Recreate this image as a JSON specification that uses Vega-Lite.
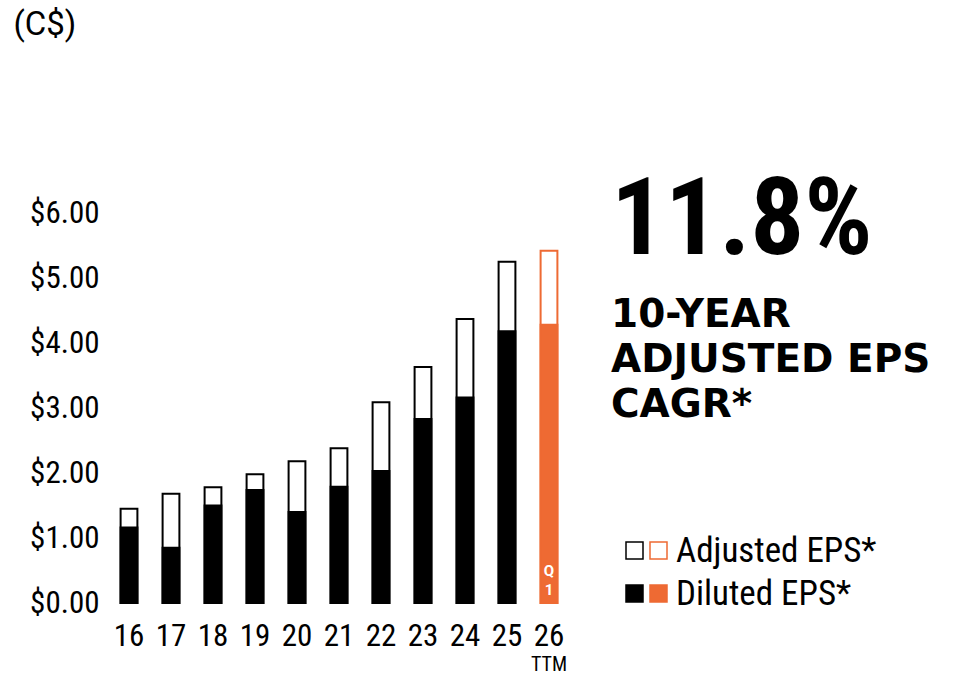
{
  "$schema": "https://vega.github.io/schema/vega-lite/v6.json",
  "width": 462,
  "height": 390,
  "autosize": {"type": "none"},
  "padding": {"left": 108, "top": 213, "right": 403, "bottom": 75},
  "background": "white",
  "config": {"view": {"stroke": null}, "font": "Roboto"},
  "title": {
    "text": "11.8%",
    "subtitle": ["10-YEAR", "ADJUSTED EPS", "CAGR*"],
    "anchor": "start",
    "frame": "group",
    "orient": "top",
    "offset": -418,
    "dx": 503,
    "font": "Roboto Condensed, Roboto",
    "fontSize": 107,
    "fontWeight": "bold",
    "color": "black",
    "subtitleFont": "DejaVu Sans",
    "subtitleFontSize": 39,
    "subtitleFontWeight": "bold",
    "subtitleColor": "black",
    "subtitleLineHeight": 45,
    "subtitlePadding": 20
  },
  "data": {
    "values": [
      {"year": "16", "period": "FY", "series": "Adjusted EPS*", "value": 1.45},
      {"year": "17", "period": "FY", "series": "Adjusted EPS*", "value": 1.68},
      {"year": "18", "period": "FY", "series": "Adjusted EPS*", "value": 1.78},
      {"year": "19", "period": "FY", "series": "Adjusted EPS*", "value": 1.98},
      {"year": "20", "period": "FY", "series": "Adjusted EPS*", "value": 2.18},
      {"year": "21", "period": "FY", "series": "Adjusted EPS*", "value": 2.38},
      {"year": "22", "period": "FY", "series": "Adjusted EPS*", "value": 3.09},
      {"year": "23", "period": "FY", "series": "Adjusted EPS*", "value": 3.63},
      {"year": "24", "period": "FY", "series": "Adjusted EPS*", "value": 4.37},
      {"year": "25", "period": "FY", "series": "Adjusted EPS*", "value": 5.25},
      {"year": "26", "period": "TTM", "series": "Adjusted EPS*", "value": 5.42},
      {"year": "16", "period": "FY", "series": "Diluted EPS*", "value": 1.16},
      {"year": "17", "period": "FY", "series": "Diluted EPS*", "value": 0.85},
      {"year": "18", "period": "FY", "series": "Diluted EPS*", "value": 1.50},
      {"year": "19", "period": "FY", "series": "Diluted EPS*", "value": 1.74},
      {"year": "20", "period": "FY", "series": "Diluted EPS*", "value": 1.40},
      {"year": "21", "period": "FY", "series": "Diluted EPS*", "value": 1.79},
      {"year": "22", "period": "FY", "series": "Diluted EPS*", "value": 2.03},
      {"year": "23", "period": "FY", "series": "Diluted EPS*", "value": 2.83},
      {"year": "24", "period": "FY", "series": "Diluted EPS*", "value": 3.16},
      {"year": "25", "period": "FY", "series": "Diluted EPS*", "value": 4.18},
      {"year": "26", "period": "TTM", "series": "Diluted EPS*", "value": 4.28, "note": "Q 1"}
    ]
  },
  "layer": [
    {
      "transform": [{"filter": "datum.series === 'Adjusted EPS*'"}],
      "mark": {"type": "bar", "strokeWidth": 2},
      "encoding": {
        "x": {
          "field": "year", "type": "nominal", "sort": null,
          "scale": {"paddingInner": 0.6, "paddingOuter": 0.3},
          "axis": {
            "orient": "bottom", "title": null, "labelAngle": 0, "domain": false, "ticks": false, "tickSize": 0,
            "labelFont": "Roboto Condensed, Liberation Sans Narrow, DejaVu Sans Condensed",
            "labelFontSize": 31, "labelColor": "black", "labelPadding": 18
          }
        },
        "y": {
          "field": "value", "type": "quantitative",
          "scale": {"domain": [0, 6]},
          "axis": {
            "values": [0, 1, 2, 3, 4, 5, 6], "format": "$.2f", "grid": false, "domain": false, "ticks": false, "tickSize": 0,
            "labelFont": "Roboto Condensed, Liberation Sans Narrow, DejaVu Sans Condensed",
            "labelFontSize": 31, "labelColor": "black", "labelPadding": 9,
            "title": "(C$)", "titleAngle": 0, "titleAlign": "left", "titleBaseline": "alphabetic",
            "titleX": -95, "titleY": -179, "titleFont": "Roboto", "titleFontSize": 33, "titleFontWeight": "normal", "titleColor": "black"
          }
        },
        "fill": {
          "field": "series", "type": "nominal",
          "scale": {"domain": {"unionWith": ["Adjusted EPS*", "Diluted EPS*"]}, "range": ["white", "#EE6A33"]},
          "legend": {
            "orient": "none", "legendX": 533, "legendY": 320, "title": null, "padding": 0,
            "symbolType": "square", "symbolSize": 289, "symbolStrokeColor": "#EE6A33", "symbolStrokeWidth": 1.5,
            "labelFont": "Roboto Condensed, Liberation Sans Narrow, DejaVu Sans Condensed",
            "labelFontSize": 35, "labelColor": "black", "labelOffset": 0, "labelLimit": 400, "rowPadding": 7
          }
        },
        "stroke": {"condition": {"test": "datum.period === 'TTM'", "value": "#EE6A33"}, "value": "black"}
      }
    },
    {
      "transform": [{"filter": "datum.series === 'Diluted EPS*'"}],
      "mark": {"type": "bar", "strokeWidth": 2},
      "encoding": {
        "x": {"field": "year", "type": "nominal", "sort": null, "axis": null},
        "y": {"field": "value", "type": "quantitative"},
        "color": {
          "field": "series", "type": "nominal",
          "scale": {"domain": ["Adjusted EPS*", "Diluted EPS*"], "range": ["white", "black"]},
          "condition": {"test": "datum.period === 'TTM'", "value": "#EE6A33"},
          "legend": {
            "orient": "none", "legendX": 509, "legendY": 320, "title": null, "padding": 0,
            "symbolType": "square", "symbolSize": 289, "symbolStrokeColor": "black", "symbolStrokeWidth": 1.5,
            "labelExpr": "''", "labelFontSize": 35, "labelOffset": 0, "rowPadding": 7
          }
        },
        "stroke": {"condition": {"test": "datum.period === 'TTM'", "value": "#EE6A33"}, "value": "black"}
      }
    },
    {
      "transform": [{"filter": "isValid(datum.note)"}],
      "mark": {"type": "text", "lineBreak": " ", "baseline": "bottom", "dy": -24, "fontSize": 15, "fontWeight": "bold", "color": "white", "lineHeight": 19},
      "encoding": {
        "x": {
          "field": "year", "type": "nominal", "sort": null,
          "axis": {
            "orient": "bottom", "title": null, "labelAngle": 0, "domain": false, "ticks": false, "tickSize": 0,
            "labelExpr": "datum.value === '26' ? 'TTM' : ''",
            "labelFont": "Roboto Condensed, Liberation Sans Narrow, DejaVu Sans Condensed",
            "labelFontSize": 20, "labelColor": "black", "labelPadding": 51
          }
        },
        "y": {"datum": 0, "type": "quantitative"},
        "text": {"field": "note"}
      }
    }
  ],
  "resolve": {"axis": {"x": "independent"}}
}
